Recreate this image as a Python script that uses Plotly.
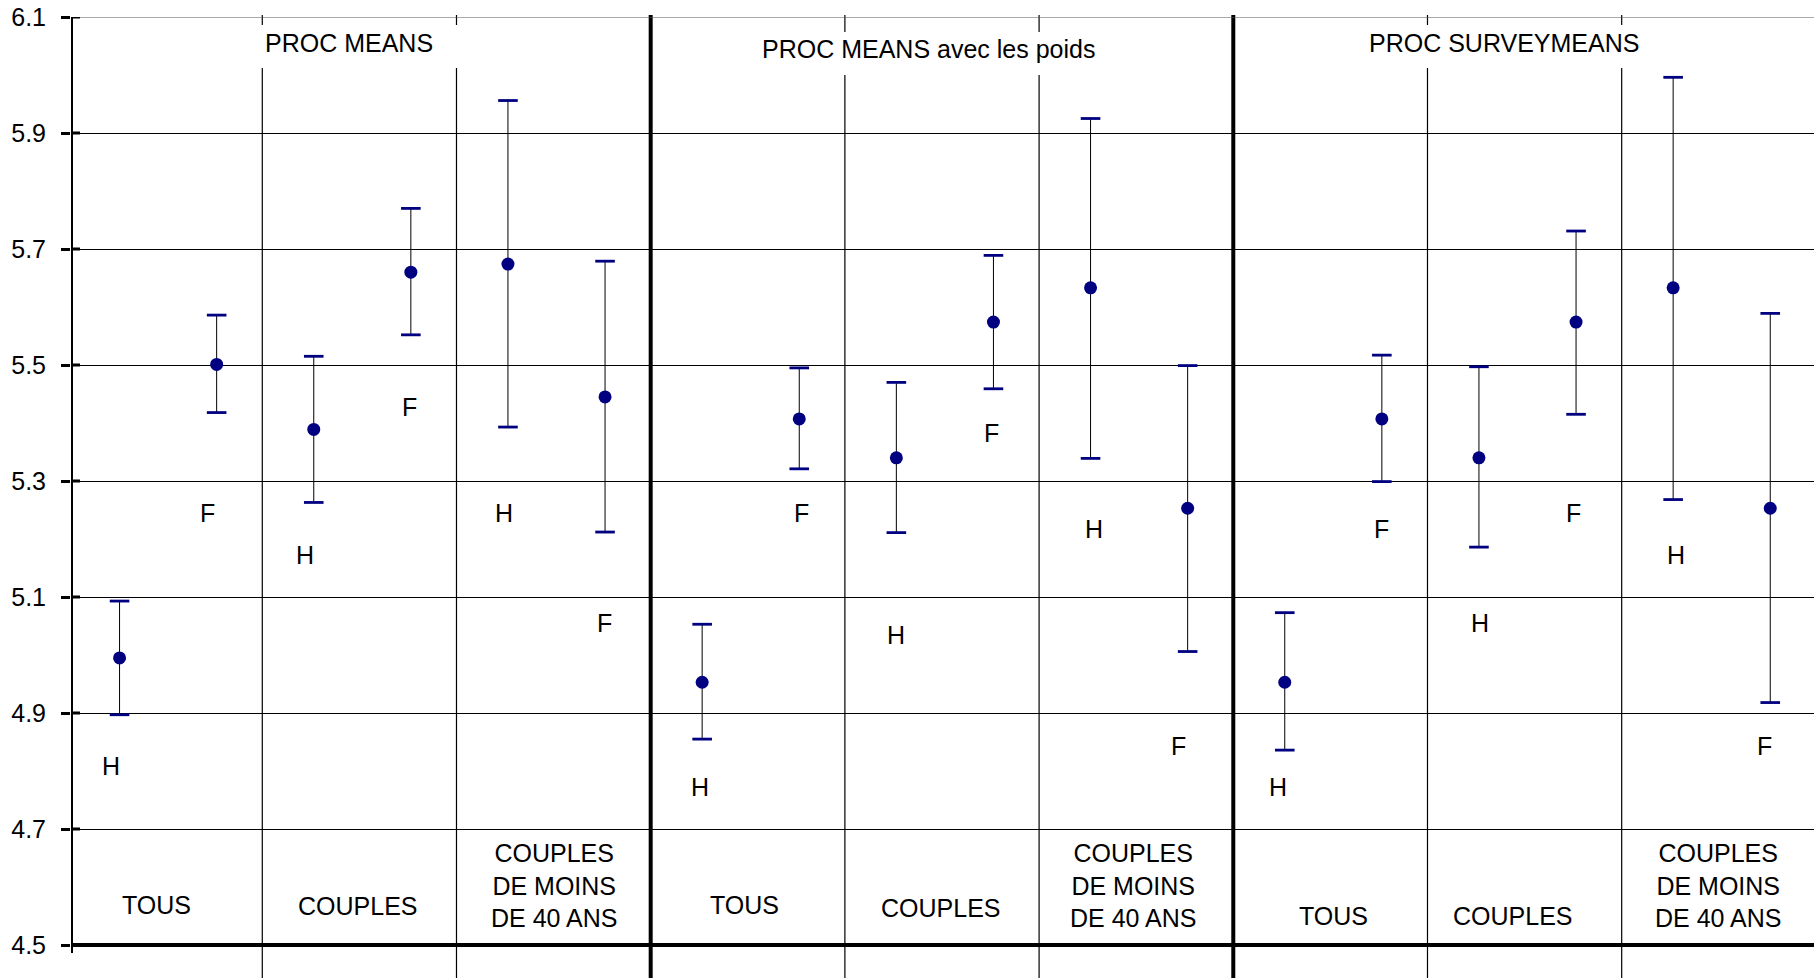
import plotly.graph_objects as go

# ---------------- data ----------------
methods = ["PROC MEANS", "PROC MEANS avec les poids", "PROC SURVEYMEANS"]
groups = ["TOUS", "COUPLES", "COUPLES<br>DE MOINS<br>DE 40 ANS"]
sexes = ["H", "F"]

# order inside each method: TOUS H, TOUS F, COUPLES H, COUPLES F, <40 H, <40 F
mean_pm = [4.995, 5.501, 5.389, 5.660, 5.674, 5.445]
upper_pm = [5.093, 5.586, 5.515, 5.770, 5.956, 5.679]
lower_pm = [4.897, 5.418, 5.263, 5.552, 5.393, 5.212]
label_pm = [4.809, 5.244, 5.172, 5.428, 5.244, 5.056]

mean_pw = [4.953, 5.407, 5.340, 5.574, 5.633, 5.253]
upper_pw = [5.053, 5.495, 5.470, 5.689, 5.925, 5.499]
lower_pw = [4.855, 5.321, 5.211, 5.459, 5.339, 5.006]
label_pw = [4.773, 5.244, 5.035, 5.382, 5.217, 4.843]

mean_sm = [4.953, 5.407, 5.340, 5.574, 5.633, 5.253]
upper_sm = [5.073, 5.517, 5.497, 5.731, 5.996, 5.589]
lower_sm = [4.836, 5.299, 5.186, 5.415, 5.268, 4.918]
label_sm = [4.773, 5.218, 5.056, 5.244, 5.172, 4.843]

y_ticks = [4.5, 4.7, 4.9, 5.1, 5.3, 5.5, 5.7, 5.9, 6.1]
y_ticktext = ["4.5", "4.7", "4.9", "5.1", "5.3", "5.5", "5.7", "5.9", "6.1"]

# ---------------- assemble ----------------
means = mean_pm + mean_pw + mean_sm
uppers = upper_pm + upper_pw + upper_sm
lowers = lower_pm + lower_pw + lower_sm
labels_y = label_pm + label_pw + label_sm
xs = list(range(len(means)))
sex_text = [sexes[i % 2] for i in xs]

# ---------------- layout geometry (pixels) ----------------
W, H = 1814, 978
ML, MT, MB = 71, 17, 33
PXU = 97.1  # pixels per sub-position
PLOT_H = H - MT - MB


def px_x(px):
    return (px - ML) / PXU - 0.5


def px_y(py):
    return (H - MB - py) / PLOT_H


FONT = "Liberation Sans, Arial, sans-serif"
NAVY = "#000080"

fig = go.Figure()

# stems
fig.add_trace(go.Scatter(
    x=xs, y=means, mode="markers",
    marker=dict(size=1, color="rgba(0,0,0,0)"),
    error_y=dict(type="data", symmetric=False,
                 array=[u - m for u, m in zip(uppers, means)],
                 arrayminus=[m - l for m, l in zip(means, lowers)],
                 color="black", thickness=1, width=0),
    hoverinfo="skip", showlegend=False))
# caps
fig.add_trace(go.Scatter(
    x=xs + xs, y=uppers + lowers, mode="markers",
    marker=dict(symbol="line-ew", size=14, line=dict(color=NAVY, width=2.8)),
    hoverinfo="skip", showlegend=False))
# means
fig.add_trace(go.Scatter(
    x=xs, y=means, mode="markers",
    marker=dict(symbol="circle", size=13, color=NAVY, line=dict(width=0)),
    hoverinfo="skip", showlegend=False))

shapes = []
annotations = []

# vertical separators
LINE_OFF = -0.03
y_bot = px_y(H)
y_top = px_y(15)
n_cells = len(methods) * len(groups)
for k in range(1, n_cells):
    xb = 2 * k - 0.5 + LINE_OFF
    thick = (k % len(groups) == 0)
    shapes.append(dict(type="line", xref="x", yref="paper", x0=xb, x1=xb,
                       y0=y_bot, y1=y_top,
                       line=dict(color="black", width=4 if thick else 1.2)))

# top line at 6.1
shapes.append(dict(type="line", xref="paper", yref="y", x0=0, x1=1,
                   y0=y_ticks[-1], y1=y_ticks[-1],
                   line=dict(color="#555555", width=1)))
# y axis line
shapes.append(dict(type="line", xref="x", yref="paper", x0=-0.5, x1=-0.5,
                   y0=px_y(953), y1=1, line=dict(color="black", width=4)))
# x axis line
shapes.append(dict(type="line", xref="paper", yref="paper", x0=0, x1=1,
                   y0=0, y1=0, line=dict(color="black", width=4)))
# inside half of cross ticks
for v in y_ticks:
    shapes.append(dict(type="line", xref="x", yref="y", x0=-0.5, x1=px_x(ML + 9),
                       y0=v, y1=v, line=dict(color="black", width=3)))

# panel title boxes (white) + titles
title_boxes = [(255, 460, 25, 68), (750, 1105, 32, 75), (1360, 1648, 25, 68)]
title_pos = [(349, 42.5), (928, 49), (1504, 42.5)]
for (x0, x1, y0, y1), (cx, cy), name in zip(title_boxes, title_pos, methods):
    shapes.append(dict(type="rect", xref="x", yref="paper",
                       x0=px_x(x0), x1=px_x(x1), y0=px_y(y1), y1=px_y(y0),
                       fillcolor="white", line=dict(width=0)))
    annotations.append(dict(x=px_x(cx), y=px_y(cy), xref="x", yref="paper",
                            text=name, showarrow=False, xanchor="center",
                            yanchor="middle",
                            font=dict(family=FONT, size=25, color="black")))

# category labels inside the bottom band
LABEL_DX = [-12, -5, -3, -6, -4, -6, 0, -15, -4]
LABEL_PY = [905, 906, 885, 905, 908, 885, 916, 916, 885]
idx = 0
for p, _ in enumerate(methods):
    for g, gname in enumerate(groups):
        annotations.append(dict(x=6 * p + 2 * g + 0.5, y=px_y(LABEL_PY[idx]),
                                xref="x", yref="paper", text=gname,
                                showarrow=False, xanchor="center",
                                yanchor="middle", xshift=LABEL_DX[idx],
                                font=dict(family=FONT, size=25, color="black")))
        idx += 1

# H / F labels
HF_DX = [-9, -9, -9, -1, -4, -1, -2, 2, 0, -2, 3, -9, -7, 0, 1, -3, 3, -6]
for x, y, t, dx in zip(xs, labels_y, sex_text, HF_DX):
    annotations.append(dict(x=x, y=y, xref="x", yref="y", text=t,
                            showarrow=False, xanchor="center", yanchor="middle",
                            xshift=dx,
                            font=dict(family=FONT, size=25, color="black")))

fig.update_layout(
    width=W, height=H,
    margin=dict(l=ML, r=0, t=MT, b=MB, autoexpand=False),
    paper_bgcolor="white", plot_bgcolor="white",
    showlegend=False,
    xaxis=dict(range=[-0.5, px_x(W)], showgrid=False, zeroline=False,
               showticklabels=False, ticks="", showline=False, fixedrange=True),
    yaxis=dict(range=[y_ticks[0], y_ticks[-1]], tickvals=y_ticks,
               ticktext=y_ticktext, showgrid=True, gridcolor="black",
               gridwidth=1, zeroline=False, showline=False,
               ticks="outside", ticklen=9, tickwidth=3, tickcolor="black",
               ticklabelstandoff=10,
               tickfont=dict(family=FONT, size=25, color="black"),
               fixedrange=True),
    shapes=shapes, annotations=annotations,
)

fig.write_html(
    "out.html",
    config={"displayModeBar": False, "staticPlot": True},
    post_script="document.body.style.margin='0';document.body.style.overflow='hidden';",
)
